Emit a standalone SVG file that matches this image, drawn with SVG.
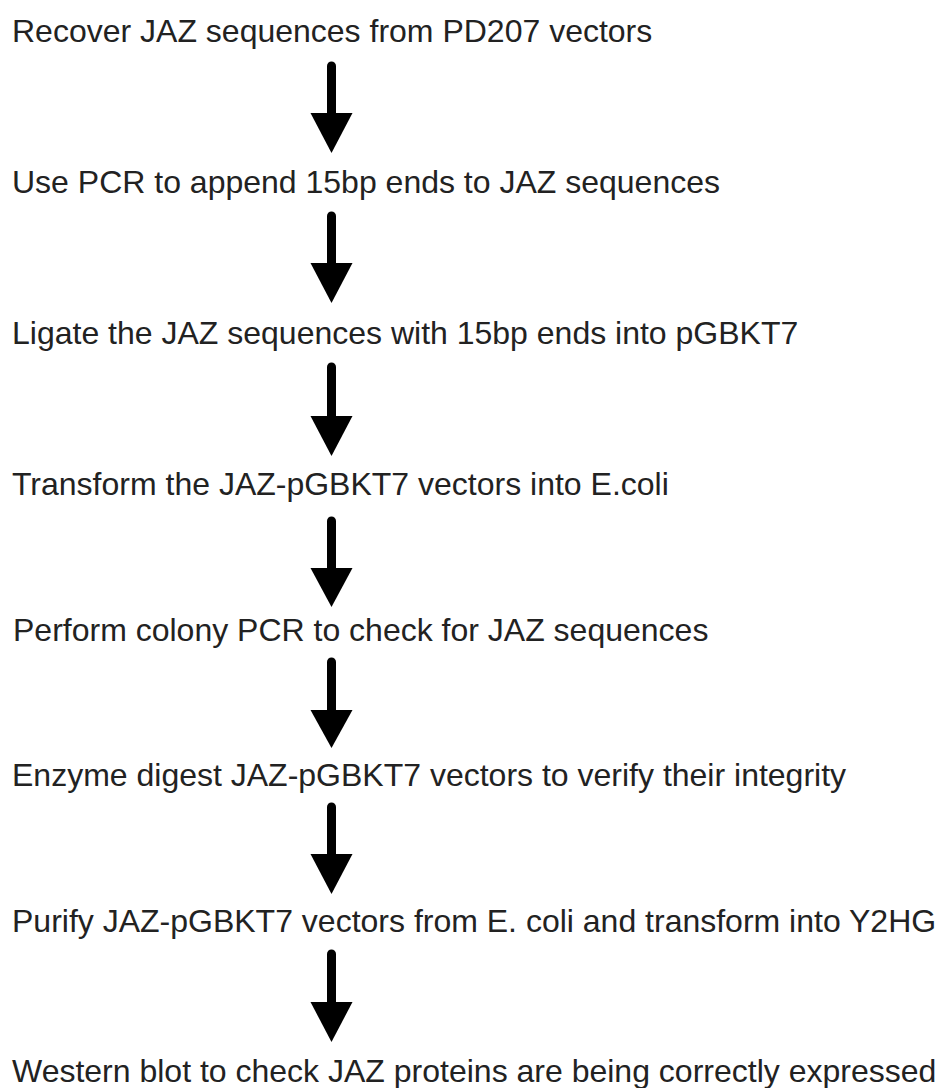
<svg xmlns="http://www.w3.org/2000/svg" width="946" height="1088" viewBox="0 0 946 1088">
<style>
.t{font-family:"Liberation Sans",Arial,sans-serif;font-size:32px;fill:#222}
.s{stroke:#000;stroke-width:9;stroke-linecap:round}
.h{fill:#000}
</style>
<rect width="946" height="1088" fill="#fff"/>
<g id="n1"><text class="t" x="12" y="42">Recover JAZ sequences from PD207 vectors</text></g>
<g id="n2"><text class="t" x="12" y="193">Use PCR to append 15bp ends to JAZ sequences</text></g>
<g id="n3"><text class="t" x="12" y="344">Ligate the JAZ sequences with 15bp ends into pGBKT7</text></g>
<g id="n4"><text class="t" x="12" y="495">Transform the JAZ-pGBKT7 vectors into E.coli</text></g>
<g id="n5"><text class="t" x="13" y="641">Perform colony PCR to check for JAZ sequences</text></g>
<g id="n6"><text class="t" x="12" y="786">Enzyme digest JAZ-pGBKT7 vectors to verify their integrity</text></g>
<g id="n7"><text class="t" x="12" y="932">Purify JAZ-pGBKT7 vectors from E. coli and transform into Y2HG</text></g>
<g id="n8"><text class="t" x="12" y="1082">Western blot to check JAZ proteins are being correctly expressed</text></g>
<g id="connectors">
<line class="s" x1="331.5" y1="66" x2="331.5" y2="118"/><polygon class="h" points="310.5,113 352.5,113 331.5,153"/>
<line class="s" x1="331.5" y1="216" x2="331.5" y2="268"/><polygon class="h" points="310.5,263 352.5,263 331.5,303"/>
<line class="s" x1="331.5" y1="367" x2="331.5" y2="421"/><polygon class="h" points="310.5,416 352.5,416 331.5,456"/>
<line class="s" x1="331.5" y1="521" x2="331.5" y2="573"/><polygon class="h" points="310.5,568 352.5,568 331.5,607"/>
<line class="s" x1="331.5" y1="662" x2="331.5" y2="715"/><polygon class="h" points="310.5,710 352.5,710 331.5,748"/>
<line class="s" x1="331.5" y1="807" x2="331.5" y2="859"/><polygon class="h" points="310.5,854 352.5,854 331.5,894"/>
<line class="s" x1="331.5" y1="954" x2="331.5" y2="1007"/><polygon class="h" points="310.5,1002 352.5,1002 331.5,1042"/>
</g>
</svg>
